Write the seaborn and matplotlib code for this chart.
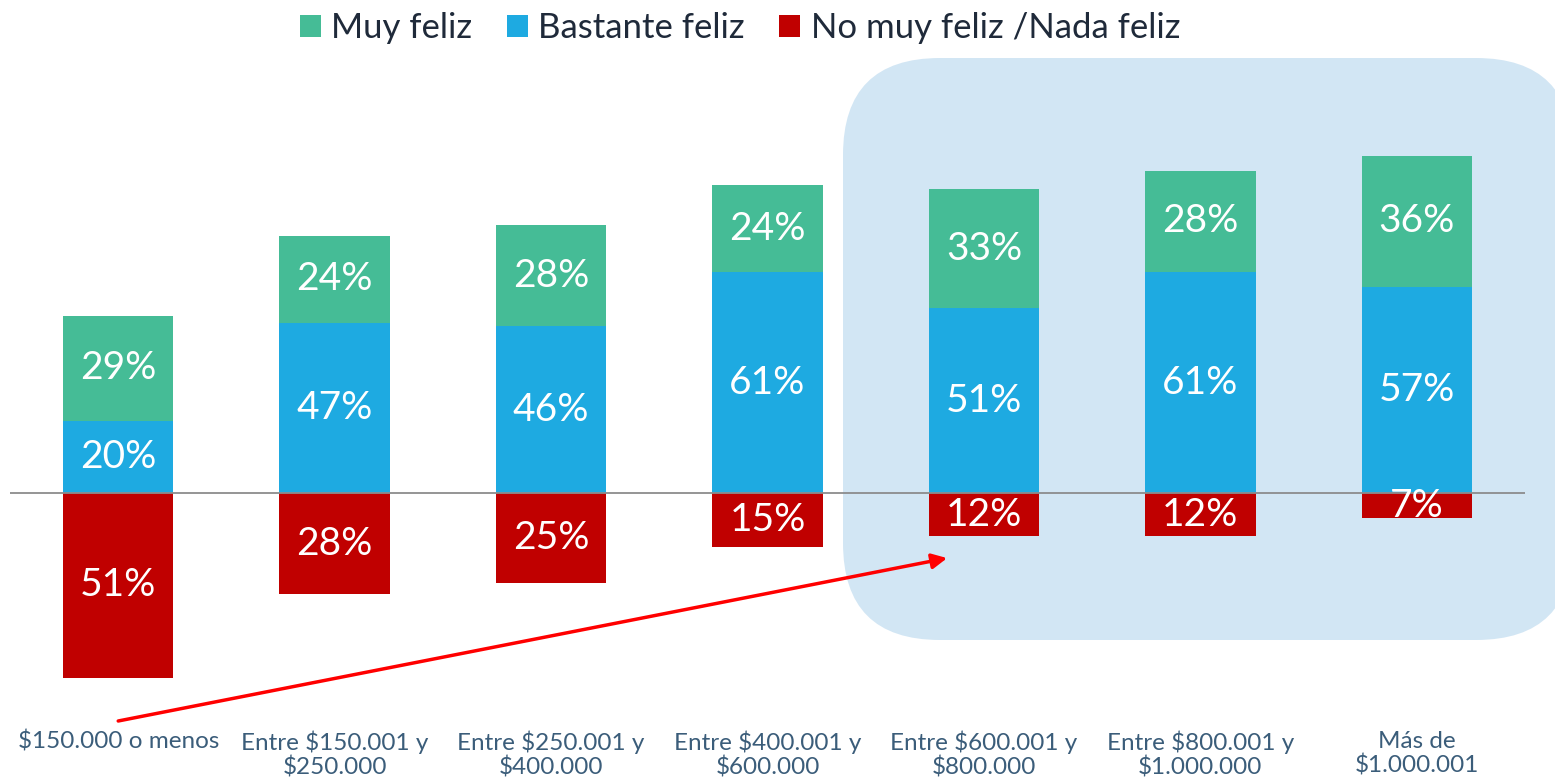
import numpy as np
import pandas as pd
import matplotlib
matplotlib.use("Agg")
import matplotlib.pyplot as plt
from matplotlib.patches import FancyBboxPatch, Patch
import seaborn as sns

# Data
categories = ["$150.000 o menos", "Entre $150.001 y\n$250.000", "Entre $250.001 y\n$400.000",
              "Entre $400.001 y\n$600.000", "Entre $600.001 y\n$800.000",
              "Entre $800.001 y\n$1.000.000", "Más de\n$1.000.001"]
muy_feliz = [29, 24, 28, 24, 33, 28, 36]
bastante_feliz = [20, 47, 46, 61, 51, 61, 57]
no_feliz = [51, 28, 25, 15, 12, 12, 7]

series_names = ["Muy feliz", "Bastante feliz", "No muy feliz /Nada feliz"]
colors = ["#45BC96", "#1EAAE1", "#C00000"]

sns.set_style("white")
plt.rcParams['font.family'] = ['Lato', 'DejaVu Sans']

df = pd.DataFrame({"cat": categories, "muy": muy_feliz, "bastante": bastante_feliz, "no": no_feliz})
df["top"] = df["muy"] + df["bastante"]
df["neg"] = -df["no"]

fig = plt.figure(figsize=(15.55, 7.82), dpi=100)
ax = fig.add_axes([10 / 1555, (782 - 700) / 782, 1515 / 1555, 640 / 782])
ax.set_zorder(1)

# light blue rounded highlight box (pixel coordinates), behind the axes
box = FancyBboxPatch((843 / 100, (782 - 640) / 100), 7.3, 5.82,
                     boxstyle="round,pad=0,rounding_size=0.97",
                     transform=fig.dpi_scale_trans, facecolor="#D2E6F4",
                     edgecolor="none", zorder=-5)
fig.patches.append(box)
ax.set_facecolor("none")

w = 0.51
sns.barplot(data=df, x="cat", y="top", color=colors[0], width=w, saturation=1, ax=ax)
sns.barplot(data=df, x="cat", y="bastante", color=colors[1], width=w, saturation=1, ax=ax)
sns.barplot(data=df, x="cat", y="neg", color=colors[2], width=w, saturation=1, ax=ax)
for p in ax.patches:
    p.set_linewidth(0)

ax.axhline(0, color="#8C8C8C", lw=1.3, zorder=5)

ax.set_xlim(-0.5, 6.5)
ax.set_ylim(-57.2, 119.6)

for i in range(len(categories)):
    b = bastante_feliz[i]
    m = muy_feliz[i]
    n = no_feliz[i]
    kw = dict(ha="center", va="center", color="white", fontsize=28, zorder=6)
    ax.text(i, b + m / 2, f"{m}%", **kw)
    ax.text(i, b / 2, f"{b}%", **kw)
    ax.text(i, -n / 2, f"{n}%", **kw)

ax.set_yticks([])
ax.set_xticks(range(len(categories)))
ax.set_xticklabels([c.replace("$", r"\$") for c in categories], fontsize=17.5, color="#3B5D7A",
                   linespacing=1.15)
ax.tick_params(axis="x", length=0, pad=22)
ax.set_xlabel("")
ax.set_ylabel("")
sns.despine(ax=ax, left=True, bottom=True)

# red arrow
ax.annotate("", xy=(3.83, -18), xytext=(0.0, -63), xycoords="data",
            arrowprops=dict(arrowstyle="-|>,head_length=0.9,head_width=0.45",
                            color="#FF0000", lw=2.5, shrinkA=0, shrinkB=0),
            annotation_clip=False, zorder=7)

handles = [Patch(facecolor=c, edgecolor="none") for c in colors]
fig.legend(handles, series_names, loc="center", bbox_to_anchor=(740 / 1555, 1 - 28 / 782),
           ncol=3, frameon=False, fontsize=25, labelcolor="#1F2A3A",
           handlelength=0.6, handleheight=0.6, handletextpad=0.3, columnspacing=1.0)

fig.savefig("out.png", dpi=100)
